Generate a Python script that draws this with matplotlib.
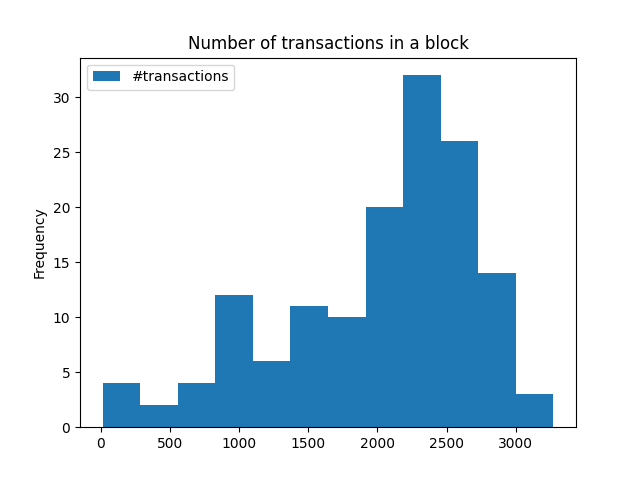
import matplotlib
matplotlib.use("Agg")
import matplotlib.pyplot as plt
import numpy as np

min_val = 14
max_val = 3271
counts = [4, 2, 4, 12, 6, 11, 10, 20, 32, 26, 14, 3]
label = "#transactions"
title = "Number of transactions in a block"

edges = np.linspace(min_val, max_val, len(counts) + 1)
centers = (edges[:-1] + edges[1:]) / 2

fig, ax = plt.subplots(figsize=(6.4, 4.8), dpi=100)
ax.hist(centers, bins=edges, weights=counts, label=label)
ax.set_title(title)
ax.set_ylabel("Frequency")
ax.legend(loc="upper left")
fig.savefig("out.png")
